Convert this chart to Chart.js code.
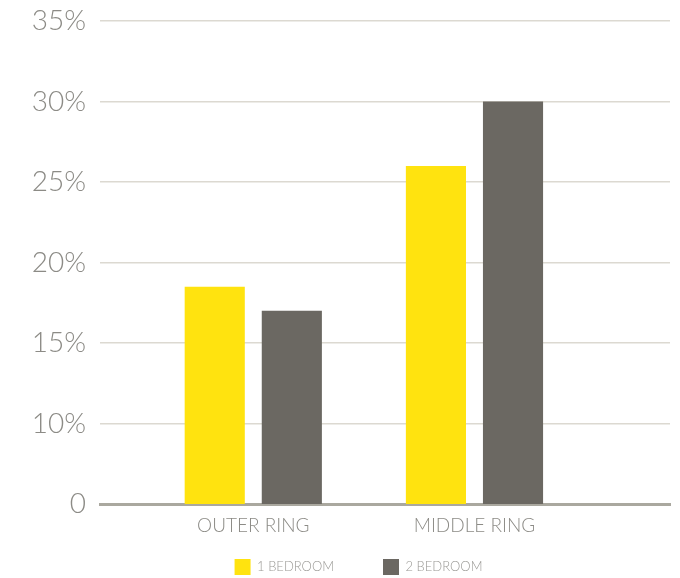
<!DOCTYPE html>
<html>
<head>
<meta charset="utf-8">
<script src="https://cdn.jsdelivr.net/npm/chart.js@4/dist/chart.umd.min.js"></script>
<style>
  html, body { margin: 0; padding: 0; background: #fff; }
  #wrap { width: 680px; height: 578px; }
</style>
</head>
<body>
<div id="wrap"><canvas id="rings" width="680" height="578"></canvas></div>
<script>
// Share of units by ring, split by bedroom count
const ringNames = ['OUTER RING', 'MIDDLE RING'];
const ringPos = [1, 2];
const oneBedroom = [18.5, 26];
const twoBedroom = [17, 30];
const seriesNames = ['1 BEDROOM', '2 BEDROOM'];
const yTicks = [5, 10, 15, 20, 25, 30, 35];

const FONT = 'Lato, "Open Sans", sans-serif';

function points(values) {
    return values.map((v, i) => ({ x: ringPos[i], y: v }));
}

// axes are squeezed in the layout, so widen their label clip boxes afterwards
const looseLabels = {
    id: 'looseLabels',
    afterLayout(chart) {
        chart.scales.y.left = 0;
        chart.scales.x.bottom = chart.height;
    }
};

const ctx = document.getElementById('rings').getContext('2d');

new Chart(ctx, {
    type: 'bar',
    data: {
        datasets: [{
            label: seriesNames[0],
            data: points(oneBedroom),
            backgroundColor: '#ffe30f',
            borderWidth: 0
        }, {
            label: seriesNames[1],
            data: points(twoBedroom),
            backgroundColor: '#6b6862',
            borderWidth: 0
        }]
    },
    plugins: [looseLabels],
    options: {
        responsive: false,
        animation: false,
        categoryPercentage: 0.697,
        barPercentage: 0.78,
        layout: {
            padding: { top: 21, left: 47, right: 10, bottom: -7 }
        },
        plugins: {
            tooltip: { enabled: false },
            legend: {
                position: 'bottom',
                labels: {
                    boxWidth: 16,
                    boxHeight: 16,
                    padding: 49,
                    color: '#9a9995',
                    font: { family: FONT, size: 13, weight: 300 }
                }
            }
        },
        scales: {
            x: {
                type: 'linear',
                offset: false,
                min: 0.307,
                max: 2.884,
                afterBuildTicks: (axis) => {
                    axis.ticks = ringPos.map(v => ({ value: v }));
                },
                afterFit: (axis) => { axis.height = 6; },
                grid: { display: false, drawTicks: false, offset: false },
                border: { color: '#aaa89f', width: 3 },
                ticks: {
                    padding: 10,
                    color: '#8c8b86',
                    font: { family: FONT, size: 19, weight: 300 },
                    callback: (value) => ringNames[ringPos.indexOf(value)] || ''
                }
            },
            y: {
                min: 5,
                max: 35,
                afterBuildTicks: (axis) => {
                    axis.ticks = yTicks.map(v => ({ value: v }));
                },
                afterFit: (axis) => {
                    axis.width = 53;
                    axis.paddingTop = 0;
                    axis.paddingBottom = 0;
                },
                border: { display: false },
                grid: {
                    drawTicks: false,
                    color: (c) => c.tick && c.tick.value === 5 ? 'rgba(0,0,0,0)' : '#dcd9d1',
                    lineWidth: 1.5
                },
                ticks: {
                    padding: 14,
                    color: '#8c8b86',
                    font: { family: FONT, size: 28, weight: 300 },
                    callback: (value) => value === 5 ? '0' : value + '%'
                }
            }
        }
    }
});
</script>
</body>
</html>
